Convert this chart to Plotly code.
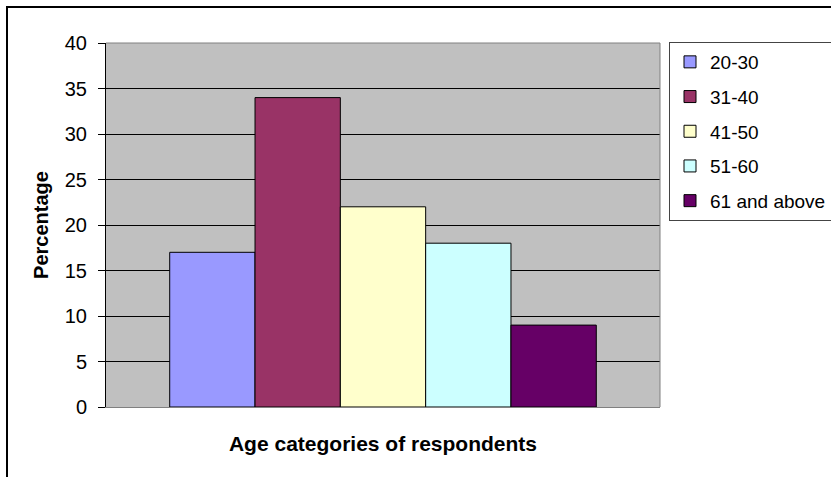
import plotly.graph_objects as go

categories = ["20-30", "31-40", "41-50", "51-60", "61 and above"]
values = [17, 34, 22, 18, 9]
colors = ["#9999FF", "#993366", "#FFFFCC", "#CCFFFF", "#660066"]
y_ticks = [0, 5, 10, 15, 20, 25, 30, 35, 40]

fig = go.Figure()
for i, (c, v, col) in enumerate(zip(categories, values, colors)):
    fig.add_trace(go.Bar(
        x=["Age"], y=[v], name=c, legendgroup=c,
        marker=dict(color=col, line=dict(color="black", width=1)),
        hoverinfo="skip",
    ))

L, R, T, B = 106, 171, 43, 70
W, H = 831, 477
pw, ph = W - L - R, H - T - B

def px_x(px):
    return (px - L) / pw

def px_y(py):
    return (H - B - py) / ph

FONT = "Liberation Sans, Arial, sans-serif"

fig.update_layout(
    width=W, height=H,
    margin=dict(l=L, r=R, t=T, b=B, pad=0, autoexpand=False),
    paper_bgcolor="white",
    plot_bgcolor="#C0C0C0",
    barmode="group",
    bargap=0.23,
    bargroupgap=0,
    font=dict(family=FONT, size=20, color="black"),
    showlegend=True,
    legend=dict(
        xref="container", yref="container",
        x=669 / W, y=1 - 42 / H, xanchor="left", yanchor="top",
        bgcolor="white", bordercolor="#444", borderwidth=1,
        font=dict(size=19), tracegroupgap=7, traceorder="grouped",
        itemwidth=30,
    ),
    xaxis=dict(
        showticklabels=False, ticks="", showgrid=False,
        showline=True, linecolor="#808080", linewidth=1,
        title=dict(text="<b>Age categories of respondents</b>", font=dict(size=21), standoff=29),
        mirror=False,
    ),
    yaxis=dict(
        range=[0, 40], tickvals=y_ticks, ticks="outside", ticklen=7, tickcolor="black",
        ticklabelstandoff=7,
        showgrid=True, gridcolor="black", gridwidth=1,
        showline=True, linecolor="black", linewidth=1,
        zeroline=False,
        title=dict(text="<b>Percentage</b>", font=dict(size=20), standoff=10),
        tickfont=dict(size=20),
    ),
    shapes=[
        dict(type="rect", xref="paper", yref="paper",
             x0=px_x(7), x1=px_x(900), y0=px_y(600), y1=px_y(7),
             line=dict(color="black", width=2), fillcolor="rgba(0,0,0,0)", layer="below"),
        dict(type="line", xref="paper", yref="paper", x0=0, x1=1, y0=1, y1=1,
             line=dict(color="#808080", width=1)),
        dict(type="line", xref="paper", yref="paper", x0=1, x1=1, y0=0, y1=1,
             line=dict(color="#808080", width=1)),
    ],
)

fig.write_html("out.html", config={"displayModeBar": False},
               post_script="document.body.style.margin='0px';")
